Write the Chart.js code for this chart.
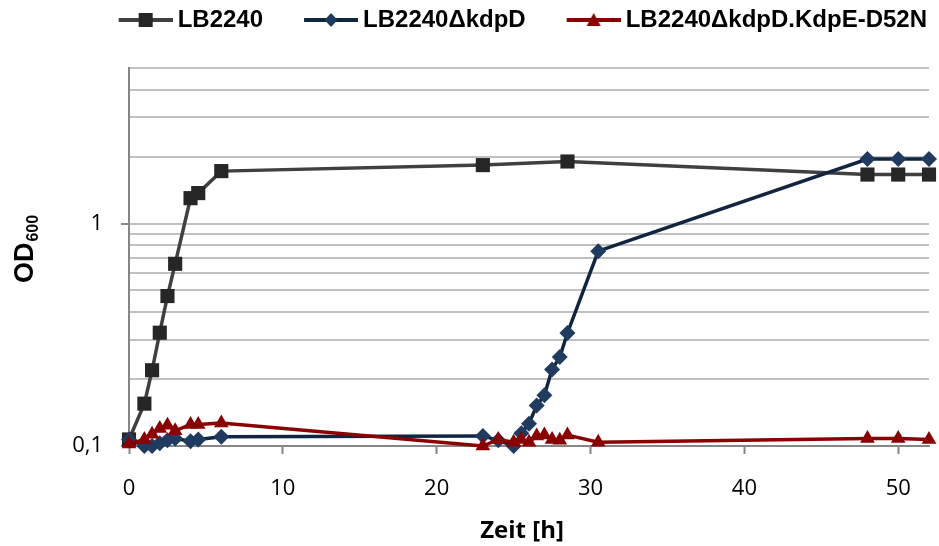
<!DOCTYPE html>
<html>
<head>
<meta charset="utf-8">
<script src="https://cdn.jsdelivr.net/npm/chart.js@4/dist/chart.umd.min.js"></script>
<style>
  html, body { margin: 0; padding: 0; background: #fff; }
</style>
</head>
<body>
<canvas id="odchart" width="939" height="546"></canvas>
<script>
const seriesNames = ["LB2240", "LB2240\u0394kdpD", "LB2240\u0394kdpD.KdpE-D52N"];

// sampling times [h]
const timeWt = [0, 1, 1.5, 2, 2.5, 3, 4, 4.5, 6, 23, 28.5, 48, 50, 52];
const timeMut = [0, 1, 1.5, 2, 2.5, 3, 4, 4.5, 6, 23, 24, 25, 25.5, 26, 26.5, 27, 27.5, 28, 28.5, 30.5, 48, 50, 52];

// OD600 values
const odWt = [0.107, 0.155, 0.219, 0.323, 0.472, 0.659, 1.30, 1.37, 1.72, 1.83, 1.90, 1.66, 1.66, 1.66];
const odKdpD = [0.107, 0.100, 0.100, 0.103, 0.106, 0.108, 0.105, 0.107, 0.110, 0.111, 0.106, 0.100, 0.114, 0.126, 0.152, 0.169, 0.221, 0.251, 0.322, 0.751, 1.95, 1.95, 1.95];
const odD52N = [0.102, 0.107, 0.113, 0.120, 0.124, 0.117, 0.125, 0.125, 0.127, 0.100, 0.107, 0.104, 0.107, 0.104, 0.111, 0.112, 0.107, 0.106, 0.112, 0.104, 0.108, 0.108, 0.107];

// axis ticks
const xTickValues = [0, 10, 20, 30, 40, 50];
const yGridValues = [0.1, 0.2, 0.3, 0.4, 0.5, 0.6, 0.7, 0.8, 0.9, 1, 2, 3, 4, 5];
const yTickLabels = ["0,1", "", "", "", "", "", "", "", "", "1", "", "", "", ""];

const toPoints = (xs, ys) => xs.map((x, i) => ({ x: x, y: ys[i] }));

// little line+marker pictures for the legend
function legendIcon(lineColor, marker, markerColor) {
  const c = document.createElement("canvas");
  c.width = 94;
  c.height = 18;
  const g = c.getContext("2d");
  const x0 = c.width - 54, mid = 9, cx = c.width - 27;
  g.strokeStyle = lineColor;
  g.lineWidth = 4;
  g.beginPath();
  g.moveTo(x0, mid);
  g.lineTo(c.width, mid);
  g.stroke();
  g.fillStyle = markerColor;
  g.beginPath();
  if (marker === "rect") {
    g.rect(cx - 7, mid - 7, 14, 14);
  } else if (marker === "diamond") {
    g.moveTo(cx, mid - 7);
    g.lineTo(cx + 6.5, mid);
    g.lineTo(cx, mid + 7);
    g.lineTo(cx - 6.5, mid);
    g.closePath();
  } else {
    g.moveTo(cx, mid - 7);
    g.lineTo(cx + 7, mid + 6);
    g.lineTo(cx - 7, mid + 6);
    g.closePath();
  }
  g.fill();
  return c;
}

const icons = [
  legendIcon("#404040", "rect", "#262626"),
  legendIcon("#10253f", "diamond", "#1f3b60"),
  legendIcon("#8b0000", "triangle", "#8b0000"),
];

// make the legend box as tall as the space above the plot
const legendSpace = {
  id: "legendSpace",
  beforeLayout(chart) {
    const lg = chart.legend;
    if (lg && !lg._tall) {
      const fit = lg.fit;
      lg.fit = function () {
        fit.call(this);
        this.height = 68;
      };
      lg._tall = true;
    }
  },
};

// axis titles (y title has a subscript)
const axisTitles = {
  id: "axisTitles",
  afterDraw(chart) {
    const ctx = chart.ctx;
    ctx.save();
    ctx.fillStyle = "#000";
    ctx.textAlign = "center";
    ctx.textBaseline = "middle";
    ctx.font = "bold 24px 'Open Sans'";
    ctx.fillText("Zeit [h]", 522, 531);

    ctx.translate(33, 249);
    ctx.rotate(-Math.PI / 2);
    ctx.textAlign = "left";
    ctx.textBaseline = "alphabetic";
    ctx.font = "bold 27px 'Liberation Sans'";
    const w1 = ctx.measureText("OD").width;
    ctx.font = "bold 16px 'Liberation Sans'";
    const w2 = ctx.measureText("600").width;
    const start = -(w1 + w2 + 1) / 2;
    ctx.font = "bold 27px 'Liberation Sans'";
    ctx.fillText("OD", start, 0);
    ctx.font = "bold 16px 'Liberation Sans'";
    ctx.fillText("600", start + w1 + 1, 5);
    ctx.restore();
  },
};

const ctx = document.getElementById("odchart").getContext("2d");

const odChart = new Chart(ctx, {
  type: "line",
  data: {
    datasets: [
      {
        label: seriesNames[0],
        data: toPoints(timeWt, odWt),
        borderColor: "#404040",
        borderWidth: 3.5,
        pointStyle: "rect",
        pointRadius: 10,
        pointBackgroundColor: "#262626",
        pointBorderColor: "#262626",
        pointBorderWidth: 0,
        order: 2,
        clip: false,
      },
      {
        label: seriesNames[1],
        data: toPoints(timeMut, odKdpD),
        borderColor: "#10253f",
        borderWidth: 3.5,
        pointStyle: "rectRot",
        pointRadius: 8,
        pointBackgroundColor: "#1f3b60",
        pointBorderColor: "#1f3b60",
        pointBorderWidth: 0,
        order: 1,
        clip: false,
      },
      {
        label: seriesNames[2],
        data: toPoints(timeMut, odD52N),
        borderColor: "#8b0000",
        borderWidth: 3.5,
        pointStyle: "triangle",
        pointRadius: 8.5,
        pointBackgroundColor: "#8b0000",
        pointBorderColor: "#8b0000",
        pointBorderWidth: 0,
        order: 0,
        clip: false,
      },
    ],
  },
  options: {
    responsive: false,
    devicePixelRatio: 1,
    animation: false,
    layout: { padding: { top: 0, right: 4, bottom: 0, left: 0 } },
    elements: { line: { tension: 0 } },
    plugins: {
      tooltip: { enabled: false },
      legend: {
        position: "top",
        align: "end",
        labels: {
          usePointStyle: true,
          pointStyleWidth: 80,
          padding: 8,
          color: "#000",
          font: { family: "'Liberation Sans'", size: 24, weight: "bold" },
          sort: (a, b) => a.datasetIndex - b.datasetIndex,
          generateLabels: (chart) =>
            Chart.defaults.plugins.legend.labels.generateLabels(chart).map((item) => {
              item.pointStyle = icons[item.datasetIndex];
              return item;
            }),
        },
      },
    },
    scales: {
      x: {
        type: "linear",
        min: 0,
        max: 52,
        afterBuildTicks: (scale) => {
          scale.ticks = xTickValues.map((v) => ({ value: v }));
        },
        afterFit: (scale) => {
          scale.height = 100;
        },
        grid: {
          drawOnChartArea: false,
          drawTicks: true,
          tickLength: 8,
          tickColor: "#868686",
          tickWidth: 2,
        },
        border: { color: "#868686", width: 2 },
        ticks: {
          color: "#000",
          padding: 22,
          maxRotation: 0,
          font: { family: "'Open Sans'", size: 22 },
        },
      },
      y: {
        type: "logarithmic",
        min: 0.1,
        max: 5,
        afterBuildTicks: (scale) => {
          scale.ticks = yGridValues.map((v) => ({ value: v }));
        },
        afterFit: (scale) => {
          scale.width = 129;
        },
        grid: {
          color: (c) => (c.tick && c.tick.value === 0.1 ? "rgba(0,0,0,0)" : "#c0c0c0"),
          lineWidth: 2,
          drawTicks: true,
          tickLength: 8,
          tickWidth: 2,
          tickColor: (c) =>
            c.tick && yTickLabels[yGridValues.indexOf(c.tick.value)] !== "" ? "#868686" : "rgba(0,0,0,0)",
        },
        border: { color: "#868686", width: 2 },
        ticks: {
          autoSkip: false,
          color: "#000",
          padding: 18,
          font: { family: "'Open Sans'", size: 22 },
          callback: (v) => {
            const i = yGridValues.indexOf(v);
            return i >= 0 ? yTickLabels[i] : "";
          },
        },
      },
    },
  },
  plugins: [legendSpace, axisTitles],
});
</script>
</body>
</html>
